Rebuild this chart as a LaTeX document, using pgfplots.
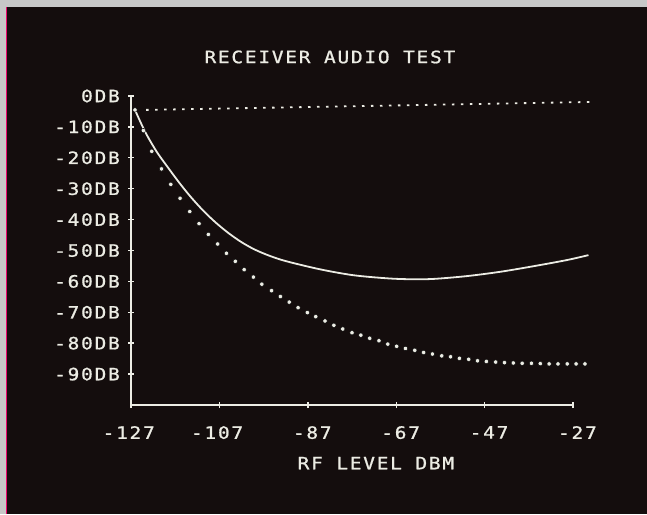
\documentclass[border=0pt]{standalone}
\usepackage{fontspec}
\newfontfamily\crt{DejaVu Sans Mono}[FakeStretch=1.15, LetterSpace=10, FakeBold=1]
\usepackage{pgfplots}
\pgfplotsset{compat=1.18}
\definecolor{crtbg}{RGB}{20,13,13}
\definecolor{crtfg}{RGB}{236,236,228}
\newcommand\crtfont{\crt\fontsize{17bp}{20bp}\selectfont}

\begin{document}
\begin{tikzpicture}
\fill[black!22] (0,0) rectangle (647bp,514bp);
\fill[crtbg] (6bp,0) rectangle (647bp,507bp);
\draw[magenta!70!red, line width=0.8bp] (6.4bp,0) -- (6.4bp,507bp);
\begin{axis}[
  at={(131bp,109bp)}, anchor=south west,
  width=442bp, height=309bp, scale only axis,
  xmin=-127, xmax=-27, ymin=-100, ymax=0,
  clip=false,
  axis x line=bottom, axis y line=left,
  axis line style={crtfg, line width=1.4bp, -},
  tick style={crtfg, line width=1.4bp},
  tick align=center, major tick length=6bp,
  xtick={-127,-107,-87,-67,-47,-27},
  xticklabels={-127,-107,-87,-67,-47,-27},
  ytick={-90,-80,-70,-60,-50,-40,-30,-20,-10,0},
  yticklabels={-90DB,-80DB,-70DB,-60DB,-50DB,-40DB,-30DB,-20DB,-10DB,0DB},
  tick label style={font=\crtfont, text=crtfg, inner sep=0pt},
  yticklabel style={anchor=east, xshift=-8bp},
  xticklabel style={anchor=north east, xshift=24bp, yshift=-18bp},
  title={RECEIVER AUDIO TEST},
  title style={at={(axis description cs:0.45,1.107)}, anchor=center,
    font=\crtfont, text=crtfg, inner sep=0pt},
  xlabel={RF LEVEL DBM},
  xlabel style={at={(axis description cs:0.554,-0.188)}, anchor=center,
    font=\crtfont, text=crtfg, inner sep=0pt},
]
% solid curve
\addplot[crtfg, line width=1.8bp, smooth] coordinates {
  (-126.1,-4.5) (-123.8,-11.6) (-121.2,-18.0) (-118.3,-23.8)
  (-115.9,-28.4) (-113.4,-32.8) (-110.6,-37.2) (-107.8,-41.0)
  (-105.0,-44.3) (-102.0,-47.3) (-99.0,-49.7) (-95.5,-51.8)
  (-91.8,-53.5) (-84.2,-56.1) (-76.7,-58.0) (-69.1,-59.0)
  (-63.9,-59.3) (-58.6,-59.2) (-51.1,-58.3) (-43.5,-56.9)
  (-36.0,-55.1) (-28.4,-53.1) (-23.5,-51.5)};
% large dotted curve
\addplot[only marks, mark=*, mark size=2.2bp,
  mark options={fill=crtfg, draw=none}] coordinates {
  (-126.1,-4.5)
  (-124.2,-11.2) (-122.3,-17.9) (-120.1,-23.6) (-118.0,-28.6)
  (-115.9,-33.1) (-113.7,-37.4) (-111.6,-41.3) (-109.5,-44.8)
  (-107.4,-47.9) (-105.4,-50.9) (-103.4,-53.5) (-101.4,-56.2)
  (-99.3,-58.6) (-97.4,-60.9) (-95.2,-63.0) (-93.2,-64.9)
  (-91.2,-66.7) (-89.2,-68.5) (-87.1,-70.1) (-85.2,-71.4)
  (-83.1,-72.8) (-81.1,-74.2) (-79.1,-75.4) (-77.0,-76.6)
  (-75.0,-77.4) (-73.0,-78.4) (-70.9,-79.2) (-68.9,-80.3)
  (-66.9,-81.0) (-64.9,-81.7) (-62.8,-82.3) (-60.8,-83.0)
  (-58.8,-83.5) (-56.7,-84.1) (-54.7,-84.4) (-52.7,-84.9)
  (-50.6,-85.2) (-48.6,-85.7) (-46.6,-85.9) (-44.5,-86.1)
  (-42.5,-86.3) (-40.5,-86.4) (-38.5,-86.5) (-36.4,-86.5)
  (-34.4,-86.6) (-32.4,-86.7) (-30.4,-86.7) (-28.3,-86.7)
  (-26.3,-86.7) (-24.3,-86.7)};
% fine dotted reference line
\addplot[crtfg, line width=1.8bp, dash pattern=on 2.5bp off 6.5bp]
  coordinates {(-123.6,-4.5) (-22.0,-1.9)};
\end{axis}
\end{tikzpicture}
\end{document}
